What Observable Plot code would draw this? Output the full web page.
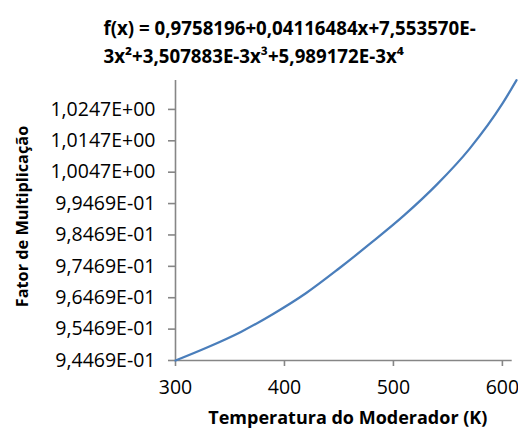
<!DOCTYPE html>
<html>
<head>
<meta charset="utf-8">
<script src="https://cdn.jsdelivr.net/npm/d3@7"></script>
<script src="https://cdn.jsdelivr.net/npm/@observablehq/plot@0.6"></script>
<style>
  html, body { margin: 0; padding: 0; background: #fff; }
</style>
</head>
<body>
<div id="chart"></div>
<script>
const titleLines = [
  "f(x) = 0,9758196+0,04116484x+7,553570E-",
  "3x²+3,507883E-3x³+5,989172E-3x⁴"
];
const xLabel = "Temperatura do Moderador (K)";
const yLabel = "Fator de Multiplicação";

const temps   = [300, 330, 360, 390, 420, 450, 480, 510, 540, 570, 600, 613];
const factors = [0.9447, 0.9490, 0.9538, 0.9596, 0.9662, 0.9740, 0.9823, 0.9910, 1.0008, 1.0122, 1.0265, 1.0340];

const xTicks = [300, 400, 500, 600];
const yTicks = [0.94469, 0.95469, 0.96469, 0.97469, 0.98469, 0.99469, 1.00469, 1.01469, 1.02469];
const xDomain = [300, 609];
const yDomain = [0.94469, 1.0339];

const data = temps.map((t, i) => ({t, f: factors[i]}));

function sciFmt(d) {
  let e = 0, m = d;
  while (m < 1) { m *= 10; e -= 1; }
  while (m >= 10) { m /= 10; e += 1; }
  const es = (e < 0 ? "-" : "+") + String(Math.abs(e)).padStart(2, "0");
  return m.toFixed(4).replace(".", ",") + "E" + es;
}

const axisGray = "#868686";
const font = "'Open Sans', sans-serif";

const chart = Plot.plot({
  width: 518,
  height: 440,
  marginLeft: 175,
  marginRight: 6.3,
  marginTop: 80,
  marginBottom: 80,
  style: { fontFamily: font, fontSize: "19.5px", color: "#000", background: "#fff" },
  x: { domain: xDomain },
  y: { domain: yDomain },
  marks: [
    Plot.ruleX([xDomain[0]], { stroke: axisGray, strokeWidth: 1.6 }),
    Plot.ruleY([yDomain[0]], { stroke: axisGray, strokeWidth: 1.6 }),
    Plot.axisY({ ticks: yTicks, tickFormat: sciFmt, tickSize: 7, tickPadding: 13, stroke: axisGray, strokeWidth: 1.6, fill: "#000", label: null }),
    Plot.axisX({ ticks: xTicks, tickFormat: d => String(d), tickSize: 6, tickPadding: 14, stroke: axisGray, strokeWidth: 1.6, fill: "#000", label: null }),
    Plot.line(data, { x: "t", y: "f", curve: "monotone-x", stroke: "#4A7EBB", strokeWidth: 2.25 }),
    Plot.text([titleLines[0]], { frameAnchor: "top-left", dx: -72, dy: -59, textAnchor: "start", fontWeight: "bold", fontSize: 18.7, fill: "#000" }),
    Plot.text([titleLines[1]], { frameAnchor: "top-left", dx: -72, dy: -31, textAnchor: "start", fontWeight: "bold", fontSize: 18.7, fill: "#000" }),
    Plot.text([yLabel], { frameAnchor: "left", textAnchor: "middle", dx: -153, dy: -4, rotate: -90, fontWeight: "bold", fontSize: 16.3, fill: "#000" }),
    Plot.text([xLabel], { frameAnchor: "bottom", textAnchor: "middle", dx: 4, dy: 63, fontWeight: "bold", fontSize: 18, fill: "#000" })
  ]
});
document.getElementById("chart").appendChild(chart);
</script>
</body>
</html>
